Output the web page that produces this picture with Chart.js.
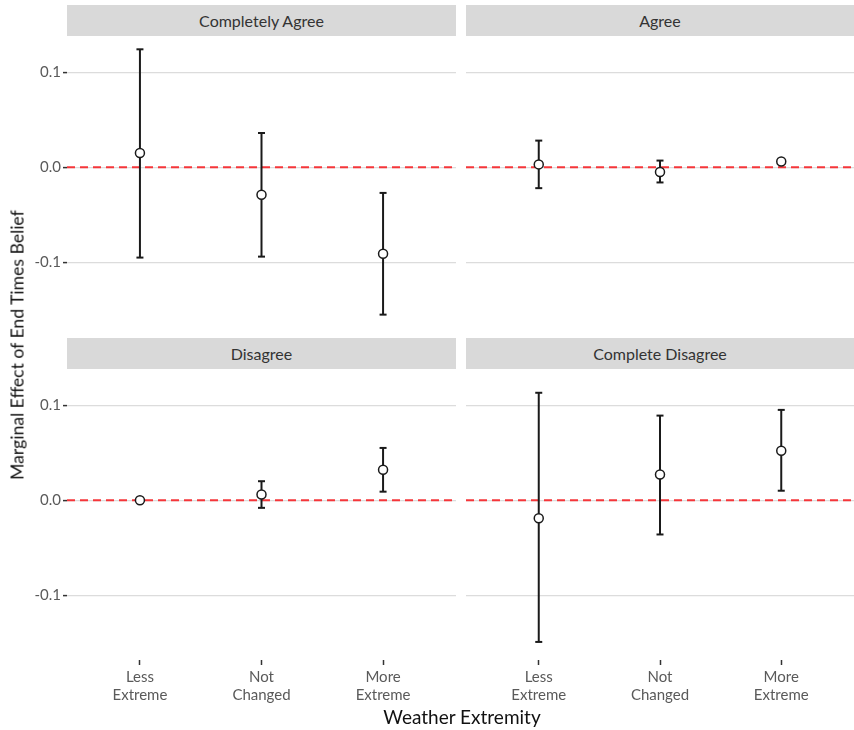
<!DOCTYPE html>
<html lang="en"><head>
<meta charset="utf-8">
<title>Marginal Effect of End Times Belief</title>
<script src="https://cdn.jsdelivr.net/npm/chart.js@4"></script>
<style>
*{box-sizing:border-box;margin:0;padding:0}
body{width:854px;height:730px;background:#fff;font-family:Lato,sans-serif;position:relative;overflow:hidden}
.strip{position:absolute;background:#d9d9d9;color:#333;font-size:16px;display:flex;align-items:center;justify-content:center}
canvas{position:absolute}
.ytitle{position:absolute;left:17px;top:345px;transform:translate(-50%,-50%) rotate(-90deg);font-size:17.6px;white-space:nowrap;color:#111}
.xtitle{position:absolute;left:462px;top:716px;transform:translate(-50%,-50%);font-size:19px;white-space:nowrap;color:#111}
</style></head><body>
<div class="strip" style="left:67px;top:5px;width:389px;height:31px" id="s0"></div>
<div class="strip" style="left:466px;top:5px;width:388px;height:31px" id="s1"></div>
<div class="strip" style="left:67px;top:338px;width:389px;height:31px" id="s2"></div>
<div class="strip" style="left:466px;top:338px;width:388px;height:31px" id="s3"></div>
<canvas id="p0" width="456" height="291" style="left:0;top:36px"></canvas>
<canvas id="p1" width="388" height="291" style="left:466px;top:36px"></canvas>
<canvas id="p2" width="456" height="345" style="left:0;top:369px"></canvas>
<canvas id="p3" width="388" height="345" style="left:466px;top:369px"></canvas>
<div class="ytitle">Marginal Effect of End Times Belief</div>
<div class="xtitle">Weather Extremity</div>
<script>
const categories=[['Less','Extreme'],['Not','Changed'],['More','Extreme']];
const panelTitles=['Completely Agree','Agree','Disagree','Complete Disagree'];
const yTicks=[-0.1,0,0.1];
const yMin=-0.168,yMax=0.138;

const completelyAgreeEst=[0.015,-0.029,-0.091];
const completelyAgreeLow=[-0.095,-0.094,-0.155];
const completelyAgreeHigh=[0.124,0.036,-0.027];
const agreeEst=[0.003,-0.005,0.006];
const agreeLow=[-0.022,-0.016,0.004];
const agreeHigh=[0.028,0.007,0.008];
const disagreeEst=[0.000,0.006,0.032];
const disagreeLow=[-0.002,-0.008,0.009];
const disagreeHigh=[0.002,0.020,0.055];
const completeDisagreeEst=[-0.019,0.027,0.052];
const completeDisagreeLow=[-0.149,-0.036,0.010];
const completeDisagreeHigh=[0.113,0.089,0.095];

panelTitles.forEach((t,i)=>document.getElementById('s'+i).textContent=t);

const ink='#1a1a1a';
const tickText='#5a5a5a';
// red dashed reference line at y = 0
const zeroLine={id:'zeroLine',beforeDatasetsDraw(c){
  const {ctx,chartArea:a}=c;const py=c.scales.y.getPixelForValue(0);
  ctx.save();ctx.strokeStyle='#f5363a';ctx.lineWidth=2;ctx.setLineDash([8,5]);
  ctx.beginPath();ctx.moveTo(a.left,py);ctx.lineTo(a.right,py);ctx.stroke();ctx.restore();
}};

function panel(id,est,low,high,showY,showX){
  const ds=[{data:est.map((v,i)=>({x:i+1,y:v})),showLine:false,pointRadius:4.5,
    pointBackgroundColor:'#fff',pointBorderColor:ink,pointBorderWidth:1.5,order:0}];
  // error bars: one two-point line per category, caps are 'line' points
  est.forEach((v,i)=>ds.push({data:[{x:i+1,y:low[i]},{x:i+1,y:high[i]}],showLine:true,
    borderColor:ink,borderWidth:2,pointStyle:'line',pointRadius:3.5,pointBorderWidth:2,
    pointBorderColor:ink,order:1}));
  new Chart(document.getElementById(id),{type:'scatter',data:{datasets:ds},
    options:{responsive:false,animation:false,events:[],layout:{padding:0,autoPadding:false},
      plugins:{legend:{display:false},tooltip:{enabled:false}},
      scales:{
        x:{type:'linear',min:0.4,max:3.6,display:showX,
          afterBuildTicks:s=>{s.ticks=categories.map((c,i)=>({value:i+1}))},
          afterFit:s=>{s.paddingLeft=0;s.paddingRight=0;if(showX)s.height=54},
          grid:{drawOnChartArea:false,drawTicks:true,tickLength:5,tickColor:'#333',tickWidth:1.5},
          border:{display:false},
          ticks:{padding:3,color:tickText,font:{family:'Lato',size:15},maxRotation:0,autoSkip:false,
            callback:v=>categories[Math.round(v)-1]}},
        y:{min:yMin,max:yMax,
          afterBuildTicks:s=>{s.ticks=yTicks.map(v=>({value:v}))},
          afterFit:s=>{s.width=showY?67:0;s.paddingTop=0;s.paddingBottom=0},
          grid:{color:'#dcdcdc',lineWidth:1.2,drawTicks:showY,tickLength:4,tickColor:'#333',tickWidth:1.5},
          border:{display:false},
          ticks:{display:showY,padding:2,color:tickText,font:{family:'Lato',size:15},
            callback:v=>v.toFixed(1)}}
      }},
    plugins:[zeroLine]});
}

panel('p0',completelyAgreeEst,completelyAgreeLow,completelyAgreeHigh,true,false);
panel('p1',agreeEst,agreeLow,agreeHigh,false,false);
panel('p2',disagreeEst,disagreeLow,disagreeHigh,true,true);
panel('p3',completeDisagreeEst,completeDisagreeLow,completeDisagreeHigh,false,true);
</script></body></html>
